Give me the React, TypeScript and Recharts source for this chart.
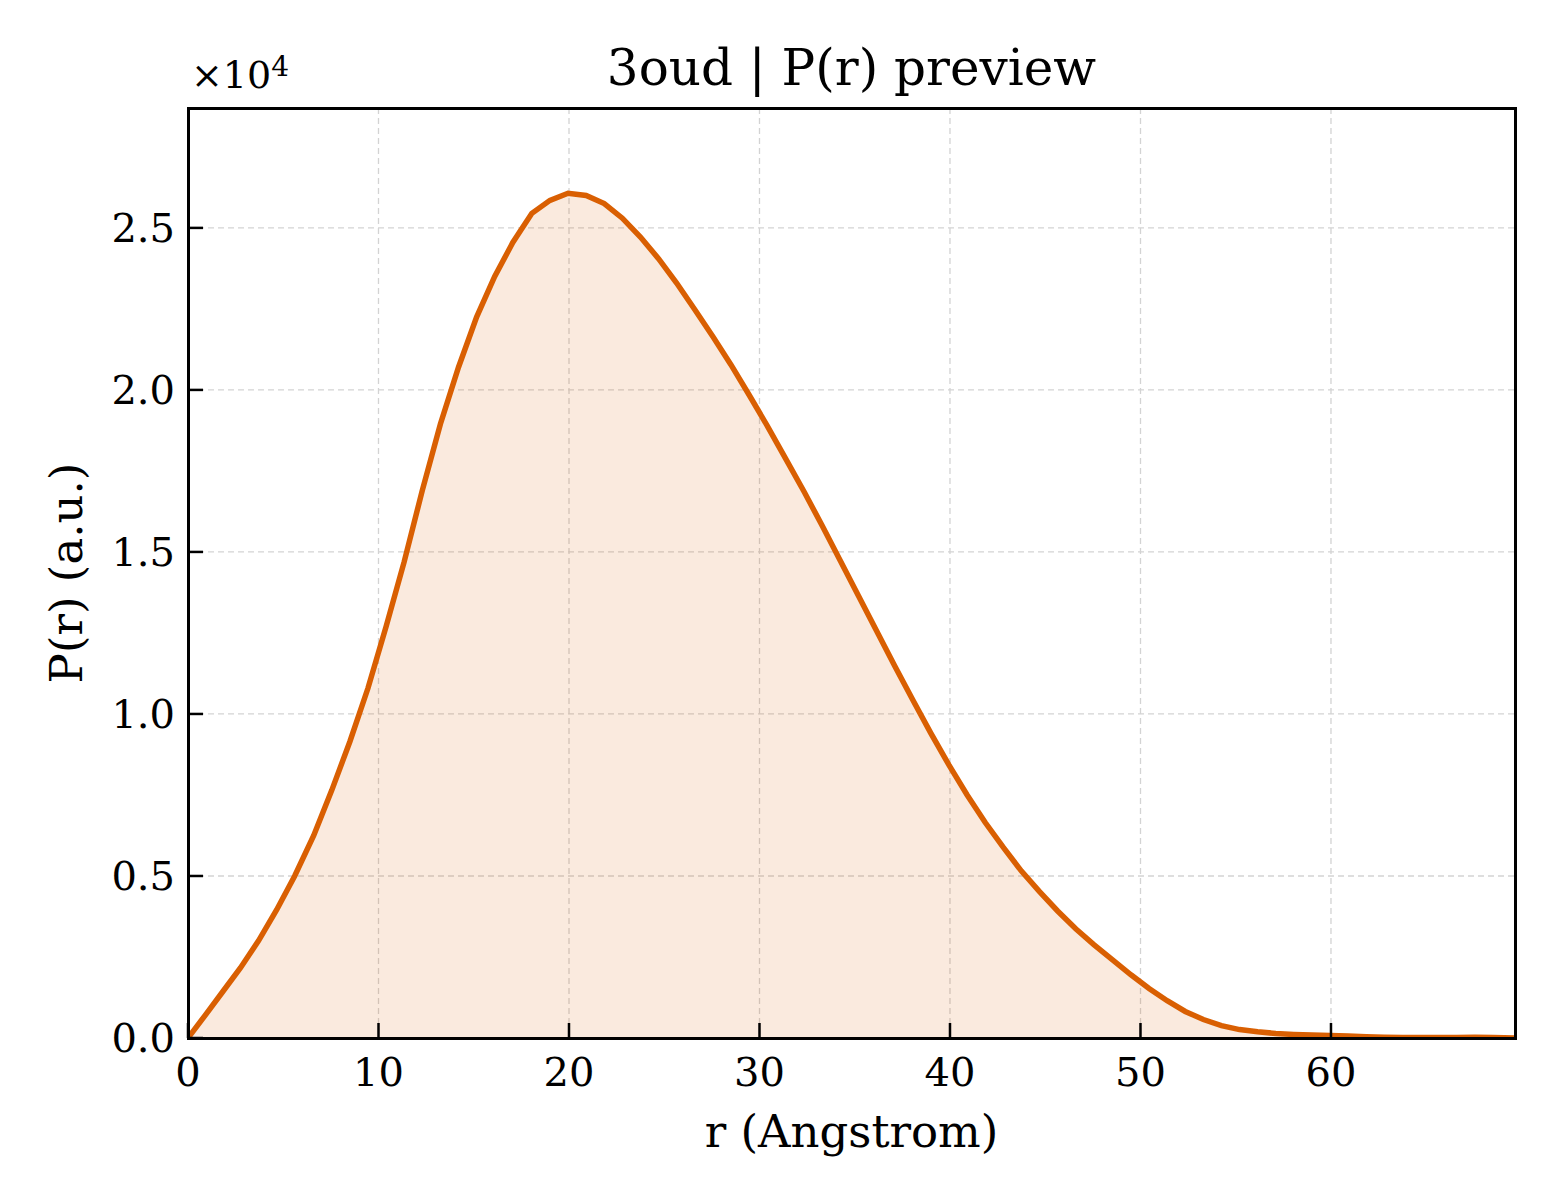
import React from 'react';
import { AreaChart, Area, XAxis, YAxis, CartesianGrid } from 'recharts';

const rValues = [
  0, 0.9, 1.85, 2.75, 3.7, 4.65, 5.6, 6.6, 7.55, 8.5, 9.45, 10.4, 11.35, 12.3, 13.25, 14.2,
  15.15, 16.1, 17.05, 18.05, 19.0, 19.95, 20.9, 21.85, 22.8, 23.75, 24.7, 25.65, 26.6, 27.55,
  28.5, 29.45, 30.4, 31.35, 32.35, 33.3, 34.25, 35.2, 36.15, 37.1, 38.05, 39.0, 39.95, 40.9,
  41.85, 42.8, 43.75, 44.7, 45.65, 46.6, 47.55, 48.55, 49.5, 50.45, 51.4, 52.35, 53.3, 54.25,
  55.2, 56.15, 57.1, 58.05, 59.0, 59.95, 60.9, 61.85, 62.8, 63.75, 64.7, 65.65, 66.6, 67.55,
  68.5, 69.66,
];

const prValues = [
  0, 700, 1450, 2160, 3000, 3950, 5000, 6250, 7650, 9150, 10800, 12700, 14700, 16900, 18950, 20700,
  22250, 23500, 24550, 25450, 25850, 26070, 26000, 25750, 25300, 24720, 24050, 23300, 22480, 21650,
  20780, 19850, 18900, 17900, 16850, 15800, 14720, 13640, 12560, 11480, 10430, 9400, 8420, 7500,
  6650, 5880, 5150, 4520, 3920, 3370, 2880, 2400, 1950, 1530, 1150, 820, 570, 380,
  260, 190, 140, 110, 90, 80, 60, 40, 25, 15, 12, 12, 18, 22,
  15, 0,
];

const xTicks = [0, 10, 20, 30, 40, 50, 60];
const yTicks = [0, 5000, 10000, 15000, 20000, 25000];

const data = rValues.map((r, i) => ({ r, pr: prValues[i] }));

const FONT = '"DejaVu Serif", serif';
const LINE = '#d95f02';

const PLOT_LEFT = 188;
const PLOT_TOP = 108;
const PLOT_RIGHT = 1515;
const PLOT_BOTTOM = 1038;

const XTick = ({ x, y, payload }: any) => (
  <g>
    <line x1={x} y1={y} x2={x} y2={y - 15} stroke="#000" strokeWidth={2.5} />
    <text x={x} y={y + 48} textAnchor="middle" fontSize={40} fontFamily={FONT} fill="#000">
      {payload.value}
    </text>
  </g>
);

const YTick = ({ x, y, payload }: any) => (
  <g>
    <line x1={x} y1={y} x2={x + 15} y2={y} stroke="#000" strokeWidth={2.5} />
    <text x={x - 13} y={y + 14} textAnchor="end" fontSize={40} fontFamily={FONT} fill="#000">
      {(payload.value / 10000).toFixed(1)}
    </text>
  </g>
);

export default function App() {
  return (
    <div style={{ position: 'relative', width: 1560, height: 1200, background: '#fff', fontFamily: FONT }}>
      <style>{'body{margin:0}'}</style>
      <AreaChart
        width={1560}
        height={1200}
        data={data}
        margin={{ top: PLOT_TOP, right: 1560 - PLOT_RIGHT, bottom: 1200 - PLOT_BOTTOM - 60, left: PLOT_LEFT - 80 }}
      >
        <CartesianGrid stroke="#d3d3d3" strokeWidth={1.3} strokeDasharray="6 4" />
        <XAxis
          dataKey="r"
          type="number"
          domain={[0, 69.66]}
          ticks={xTicks}
          allowDataOverflow
          height={60}
          axisLine={false}
          tickLine={false}
          tickSize={0}
          tickMargin={0}
          tick={<XTick />}
          interval={0}
        />
        <YAxis
          type="number"
          domain={[0, 28700]}
          ticks={yTicks}
          allowDataOverflow
          width={80}
          axisLine={false}
          tickLine={false}
          tickSize={0}
          tickMargin={0}
          tick={<YTick />}
          interval={0}
        />
        <Area
          type="linear"
          dataKey="pr"
          stroke={LINE}
          strokeWidth={5.5}
          fill={LINE}
          fillOpacity={0.13}
          isAnimationActive={false}
          dot={false}
          activeDot={false}
        />
      </AreaChart>

      {/* axes frame */}
      <div
        style={{
          position: 'absolute',
          left: PLOT_LEFT - 1.5,
          top: PLOT_TOP - 1.5,
          width: PLOT_RIGHT - PLOT_LEFT + 3,
          height: PLOT_BOTTOM - PLOT_TOP + 3,
          border: '3px solid #000',
          boxSizing: 'border-box',
          pointerEvents: 'none',
        }}
      />

      <div style={{ position: 'absolute', left: PLOT_LEFT, width: PLOT_RIGHT - PLOT_LEFT, top: 38, textAlign: 'center', fontSize: 50, lineHeight: '60px' }}>
        3oud | P(r) preview
      </div>
      <div style={{ position: 'absolute', left: 191, top: 52, fontSize: 38, lineHeight: '46px' }}>
        ×10<sup style={{ fontSize: 28, verticalAlign: 'top', position: 'relative', top: -8 }}>4</sup>
      </div>
      <div style={{ position: 'absolute', left: PLOT_LEFT, width: PLOT_RIGHT - PLOT_LEFT, top: 1104, textAlign: 'center', fontSize: 45, lineHeight: '56px' }}>
        r (Angstrom)
      </div>
      <div
        style={{
          position: 'absolute',
          left: 67,
          top: 573,
          transform: 'translate(-50%, -50%) rotate(-90deg)',
          whiteSpace: 'nowrap',
          fontSize: 45,
          lineHeight: '56px',
        }}
      >
        P(r) (a.u.)
      </div>
    </div>
  );
}
